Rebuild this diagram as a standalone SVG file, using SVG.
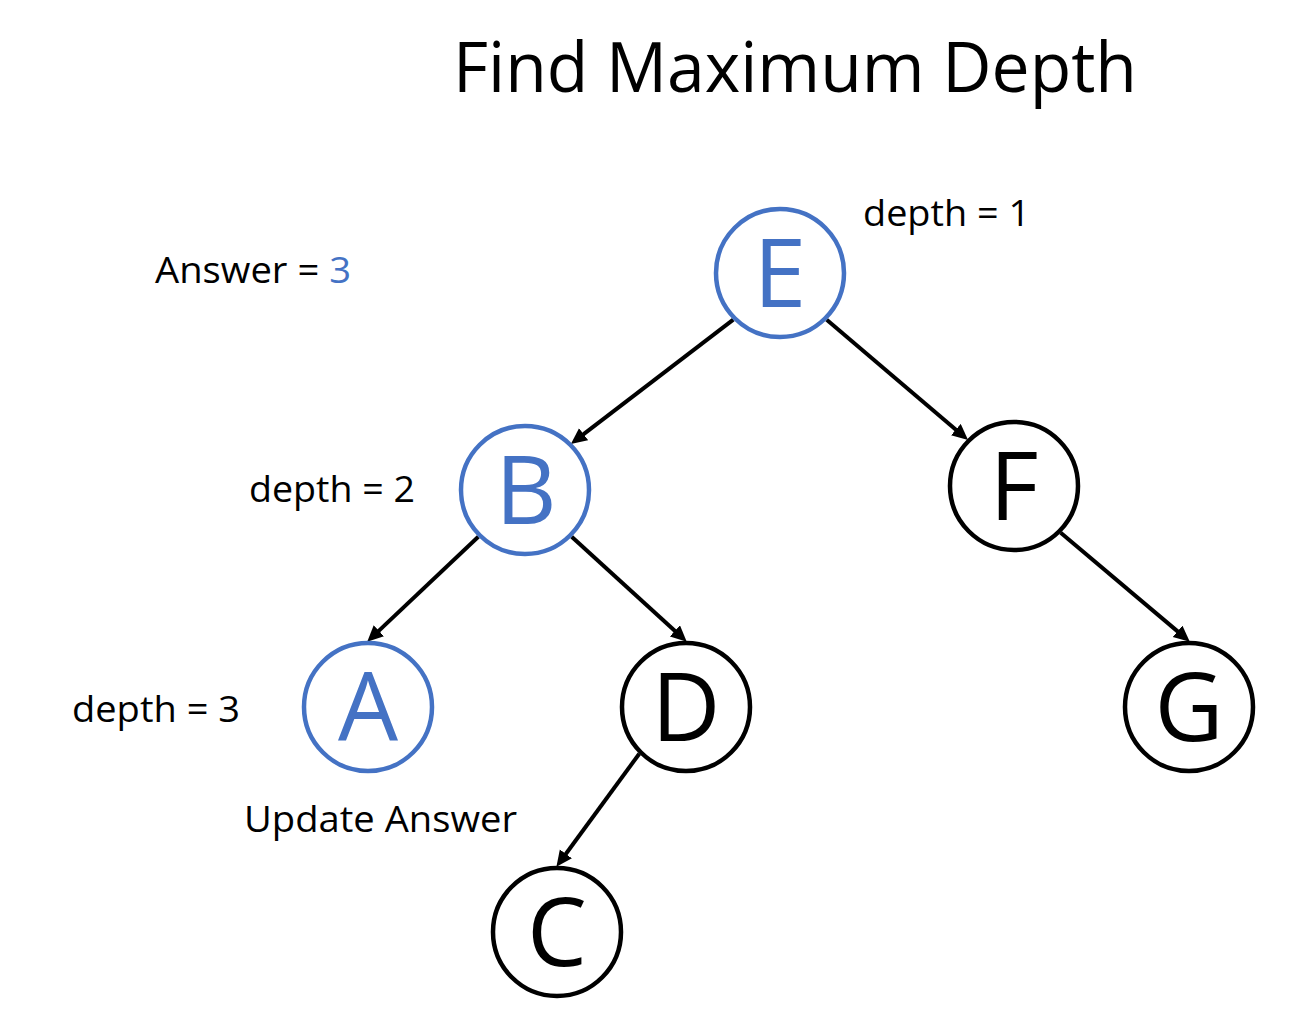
<svg xmlns="http://www.w3.org/2000/svg" width="1316" height="1017" viewBox="0 0 1316 1017">
<style>
text{font-family:"Open Sans","Noto Sans","Liberation Sans",sans-serif;fill:#000}
.lbl{font-size:37px}
.ttl{font-size:70px}
.node circle{fill:#fff;stroke-width:4.5}
.blue circle{stroke:#4472C4}
.blue text{fill:#4472C4}
.black circle{stroke:#000}
.letter{font-size:95px;text-anchor:middle}
.edge{stroke:#000;stroke-width:4;fill:none;marker-end:url(#arr)}
</style>
<defs>
<marker id="arr" markerUnits="userSpaceOnUse" markerWidth="20" markerHeight="16" refX="2" refY="7.5" orient="auto">
<path d="M0,0 L16,7.5 L0,15 z" fill="#000"/>
</marker>
</defs>
<rect width="1316" height="1017" fill="#fff"/>
<text class="ttl" x="453" y="92" textLength="684" lengthAdjust="spacingAndGlyphs">Find Maximum Depth</text>
<text class="lbl" x="863" y="226" textLength="167" lengthAdjust="spacingAndGlyphs">depth = 1</text>
<text class="lbl" x="155" y="283" textLength="196" lengthAdjust="spacingAndGlyphs">Answer = <tspan fill="#4472C4">3</tspan></text>
<text class="lbl" x="249" y="502" textLength="166" lengthAdjust="spacingAndGlyphs">depth = 2</text>
<text class="lbl" x="72" y="722" textLength="168" lengthAdjust="spacingAndGlyphs">depth = 3</text>
<text class="lbl" x="244" y="832" textLength="273" lengthAdjust="spacingAndGlyphs">Update Answer</text>
<g id="connectors">
<line class="edge" x1="733.3" y1="319.7" x2="582.0" y2="435.4"/>
<line class="edge" x1="826.7" y1="319.7" x2="957.4" y2="430.9"/>
<line class="edge" x1="478.3" y1="536.7" x2="377.4" y2="632.1"/>
<line class="edge" x1="571.7" y1="536.7" x2="676.4" y2="632.2"/>
<line class="edge" x1="1060.7" y1="532.7" x2="1179.1" y2="632.6"/>
<line class="edge" x1="639.3" y1="753.7" x2="564.7" y2="855.5"/>
</g>
<g id="node-E" class="node blue"><circle cx="780" cy="273" r="64"/><text class="letter" x="780" y="307">E</text></g>
<g id="node-B" class="node blue"><circle cx="525" cy="490" r="64"/><text class="letter" x="526" y="524">B</text></g>
<g id="node-F" class="node black"><circle cx="1014" cy="486" r="64"/><text class="letter" x="1014" y="520">F</text></g>
<g id="node-A" class="node blue"><circle cx="368" cy="707" r="64"/><text class="letter" x="368" y="741">A</text></g>
<g id="node-D" class="node black"><circle cx="686" cy="707" r="64"/><text class="letter" x="686" y="741">D</text></g>
<g id="node-G" class="node black"><circle cx="1189" cy="707" r="64"/><text class="letter" x="1189" y="741">G</text></g>
<g id="node-C" class="node black"><circle cx="557" cy="932" r="64"/><text class="letter" x="557" y="966">C</text></g>
</svg>
